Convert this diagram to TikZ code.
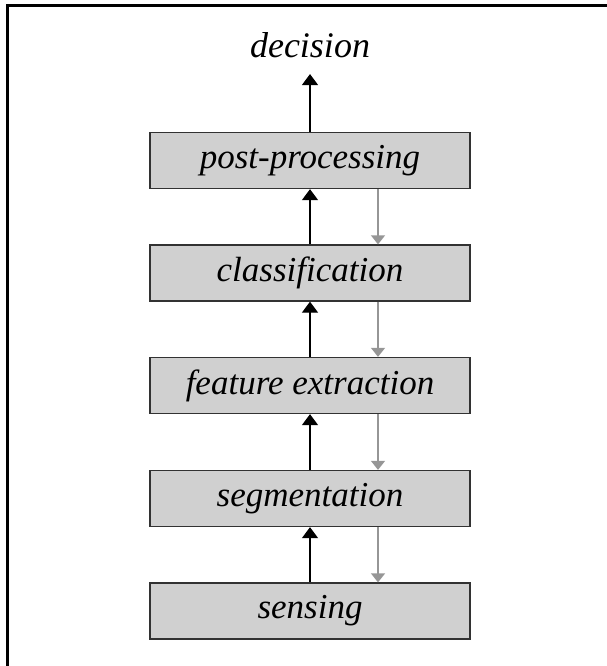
\documentclass[tikz,border=0pt]{standalone}
\usepackage{fontspec}
\setmainfont{Liberation Serif}
\usetikzlibrary{arrows.meta}
\definecolor{boxfill}{RGB}{208,208,208}
\definecolor{boxedge}{RGB}{50,50,50}
\definecolor{backarrow}{RGB}{150,150,150}
\begin{document}
\begin{tikzpicture}[x=1pt,y=-1pt,
  stagebox/.style={draw=boxedge, line width=1.3pt, fill=boxfill,
    minimum width=320pt, minimum height=56pt, inner sep=0pt,
    font=\fontsize{35}{38}\selectfont\itshape},
  uparrow/.style={draw=black, line width=1.3pt, -{Triangle[width=16pt,length=11pt]}},
  downarrow/.style={draw=backarrow, line width=1.3pt, -{Triangle[width=14pt,length=9pt]}}
]
\useasboundingbox (0,0) rectangle (607,666);
\draw[line width=2.5pt] (7.5,666) -- (7.5,5.5) -- (607,5.5);

\node[inner sep=0pt, anchor=base, font=\fontsize{36}{38}\selectfont\itshape] (dec) at (310,58) {decision};
\node[stagebox] (post) at (310,160.5) {post-processing};
\node[stagebox] (class) at (310,273) {classification};
\node[stagebox] (feat) at (310,385.5) {feature extraction};
\node[stagebox] (seg) at (310,498.5) {segmentation};
\node[stagebox] (sens) at (310,611) {sensing};

\draw[uparrow] (post.north) -- ([yshift=-15.5pt]dec.south);
\draw[uparrow] (class.north) -- (post.south);
\draw[uparrow] (feat.north) -- (class.south);
\draw[uparrow] (seg.north) -- (feat.south);
\draw[uparrow] (sens.north) -- (seg.south);

\draw[downarrow] ([xshift=68pt]post.south) -- ([xshift=68pt]class.north);
\draw[downarrow] ([xshift=68pt]class.south) -- ([xshift=68pt]feat.north);
\draw[downarrow] ([xshift=68pt]feat.south) -- ([xshift=68pt]seg.north);
\draw[downarrow] ([xshift=68pt]seg.south) -- ([xshift=68pt]sens.north);
\end{tikzpicture}
\end{document}
